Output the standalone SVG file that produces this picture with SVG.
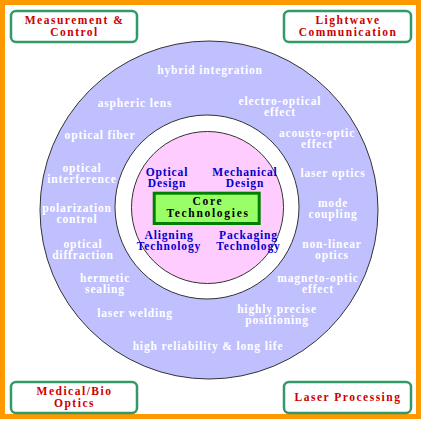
<svg xmlns="http://www.w3.org/2000/svg" width="422" height="422" viewBox="0 0 422 422">
<style>
.cb{fill:#fff;stroke:#339966;stroke-width:2.5}
.ct{font-family:"Liberation Serif",serif;font-weight:bold;font-size:11.5px;letter-spacing:1.5px;fill:#cc0000;text-anchor:middle}
.rt{font-family:"Liberation Serif",serif;font-weight:bold;font-size:11.5px;letter-spacing:0.85px;fill:#fff;text-anchor:middle}
.bt{font-family:"Liberation Serif",serif;font-weight:bold;font-size:11.5px;letter-spacing:0.85px;fill:#0000cc;text-anchor:middle}
.kt{font-family:"Liberation Serif",serif;font-weight:bold;font-size:11.5px;letter-spacing:1.7px;fill:#000;text-anchor:middle}
</style>
<rect x="0" y="0" width="422" height="422" fill="#fff"/>
<rect id="frame" x="2.5" y="2.5" width="416" height="414" fill="none" stroke="#ff9900" stroke-width="5"/>
<g id="rings">
<circle cx="209" cy="210" r="169" fill="#c0c0ff" stroke="#333" stroke-width="1"/>
<circle cx="207" cy="207" r="92" fill="#fff" stroke="#333" stroke-width="1"/>
<circle cx="207.5" cy="207.5" r="76" fill="#ffccff" stroke="#333" stroke-width="1"/>
</g>
<g id="ring-labels">
<text class="rt" x="210" y="74">hybrid integration</text>
<text class="rt" x="135" y="107">aspheric lens</text>
<text class="rt" x="280" y="105">electro-optical<tspan x="280" dy="11">effect</tspan></text>
<text class="rt" x="100" y="139">optical fiber</text>
<text class="rt" x="317" y="137">acousto-optic<tspan x="317" dy="11">effect</tspan></text>
<text class="rt" x="333" y="177">laser optics</text>
<text class="rt" x="333" y="207">mode<tspan x="333" dy="11">coupling</tspan></text>
<text class="rt" x="332" y="248">non-linear<tspan x="332" dy="11">optics</tspan></text>
<text class="rt" x="318" y="282">magneto-optic<tspan x="318" dy="11">effect</tspan></text>
<text class="rt" x="277" y="313">highly precise<tspan x="277" dy="11">positioning</tspan></text>
<text class="rt" x="208" y="350">high reliability &amp; long life</text>
<text class="rt" x="135" y="317">laser welding</text>
<text class="rt" x="105" y="282">hermetic<tspan x="105" dy="11">sealing</tspan></text>
<text class="rt" x="83" y="248">optical<tspan x="83" dy="11">diffraction</tspan></text>
<text class="rt" x="77" y="211.5">polarization<tspan x="77" dy="11">control</tspan></text>
<text class="rt" x="82" y="171.5">optical<tspan x="82" dy="11">interference</tspan></text>
</g>
<g id="inner-labels">
<text class="bt" x="167" y="176">Optical<tspan x="167" dy="10.7">Design</tspan></text>
<text class="bt" x="245" y="176">Mechanical<tspan x="245" dy="10.7">Design</tspan></text>
<text class="bt" x="169" y="239">Aligning<tspan x="169" dy="10.5">Technology</tspan></text>
<text class="bt" x="248.5" y="239">Packaging<tspan x="248.5" dy="10.5">Technology</tspan></text>
</g>
<g id="core">
<rect x="154.2" y="193.2" width="105" height="30.3" fill="#99ff66" stroke="#008000" stroke-width="3"/>
<text class="kt" x="208" y="205">Core<tspan x="208" dy="12.3">Technologies</tspan></text>
</g>
<g id="measurement">
<rect class="cb" x="11" y="11" width="126" height="31" rx="5"/>
<text class="ct" x="74.5" y="23.5">Measurement &amp;<tspan x="74.5" dy="12">Control</tspan></text>
</g>
<g id="lightwave">
<rect class="cb" x="284" y="11" width="127" height="31" rx="5"/>
<text class="ct" x="348" y="23.5">Lightwave<tspan x="348" dy="12">Communication</tspan></text>
</g>
<g id="medical">
<rect class="cb" x="11" y="382" width="126" height="31" rx="5"/>
<text class="ct" x="74.5" y="394.5">Medical/Bio<tspan x="74.5" dy="12">Optics</tspan></text>
</g>
<g id="laser">
<rect class="cb" x="284" y="382" width="127" height="31" rx="5"/>
<text class="ct" x="348" y="401">Laser Processing</text>
</g>
<g id="connectors"/>
</svg>
